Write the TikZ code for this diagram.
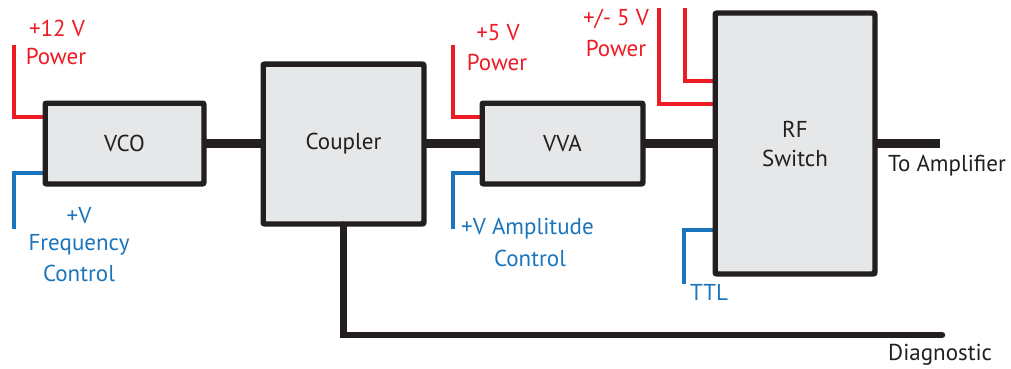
\documentclass[tikz,border=0pt]{standalone}
\usepackage{fontspec}
\setmainfont{PT Sans}
\definecolor{wred}{HTML}{ED1C24}
\definecolor{wblue}{HTML}{1B75BC}
\definecolor{wblack}{HTML}{231F20}
\definecolor{boxfill}{HTML}{E6E7E8}
\begin{document}
\begin{tikzpicture}[x=1pt,y=-1pt,
  blk/.style={draw=wblack,fill=boxfill,line width=3.5pt,rounded corners=2pt,inner sep=0pt,font=\fontsize{23}{29}\selectfont,text=wblack,align=center},
  rfw/.style={draw=wblack,line width=8.5pt},
  pw/.style={draw=wred,line width=3.5pt},
  cw/.style={draw=wblue,line width=3.5pt},
  border/.style={draw=wblack,line width=3.5pt,rounded corners=2pt},
  rl/.style={text=wred,font=\fontsize{23}{27}\selectfont,inner sep=0pt},
  bl/.style={text=wblue,font=\fontsize{23}{27}\selectfont,inner sep=0pt},
  kl/.style={text=wblack,font=\fontsize{23}{27}\selectfont,inner sep=0pt}]
\useasboundingbox (0,0) rectangle (1011,369);
\coordinate (diagend) at (942,335);
\coordinate (ampend) at (940,143.5);
\node[blk,minimum width=157pt,minimum height=79pt] (vco) at (124.5,143.5) {VCO};
\node[blk,minimum width=159pt,minimum height=158pt] (cpl) at (343.5,144) {Coupler};
\node[blk,minimum width=159pt,minimum height=79pt] (vva) at (562.5,143.5) {VVA};
\node[blk,minimum width=158pt,minimum height=259pt] (rf) at (795,143.5) {RF\\Switch};
% RF signal wires
\draw[rfw] (vco.east) -- (cpl.west|-vco.east);
\draw[rfw] (cpl.east|-vco.east) -- (vva.west);
\draw[rfw] (vva.east) -- (rf.west|-vva.east);
\draw[rfw] (rf.east|-vva.east) -- (ampend);
\draw[rfw,line width=6.5pt,line cap=round] (cpl.south) -- (cpl.south|-diagend) -- (diagend);
% power / control wires
\coordinate (vcoP) at (14,45);
\coordinate (vcoC) at (14,229);
\coordinate (vvaP) at (453,45);
\coordinate (vvaC) at (453,229);
\coordinate (rfP1) at (659,8);
\coordinate (rfP2) at (685,8);
\coordinate (rfT) at (684,284);
\draw[pw] (vcoP) |- (vco.west|-0,117);
\draw[cw] (vcoC) |- (vco.west|-0,173);
\draw[pw] (vvaP) |- (vva.west|-0,117);
\draw[cw] (vvaC) |- (vva.west|-0,173);
\draw[pw] (rfP1) |- (rf.west|-0,104);
\draw[pw] (rfP2) |- (rf.west|-0,81);
\draw[cw] (rfT) |- (rf.west|-0,230);
% box borders on top of wire ends
\draw[border] (vco.north west) rectangle (vco.south east);
\draw[border] (vva.north west) rectangle (vva.south east);
\draw[border] (rf.north west) rectangle (rf.south east);
\draw[border] (cpl.north west) rectangle (cpl.south east);
% labels
\node[rl] (l12) at (57,28) {+12 V};
\node[rl] (l12p) at (56,56) {Power};
\node[bl] (lv1) at (79,216) {+V};
\node[bl] (lfreq) at (79,245) {Frequency};
\node[bl] (lctl1) at (79,273) {Control};
\node[rl] (l5) at (498,33) {+5 V};
\node[rl] (l5p) at (497,62) {Power};
\node[bl,anchor=west] (lamp) at (461,229) {+V Amplitude};
\node[bl] (lctl2) at (530,258) {Control};
\node[rl] (lpm) at (616,19) {+/- 5 V};
\node[rl] (lpmp) at (616,48) {Power};
\node[bl,anchor=west] (lttl) at (690,292) {TTL};
\node[kl,anchor=west] (lto) at (888,166) {To Amplifier};
\node[kl,anchor=west] (ldiag) at (888,355) {Diagnostic};
\end{tikzpicture}
\end{document}
